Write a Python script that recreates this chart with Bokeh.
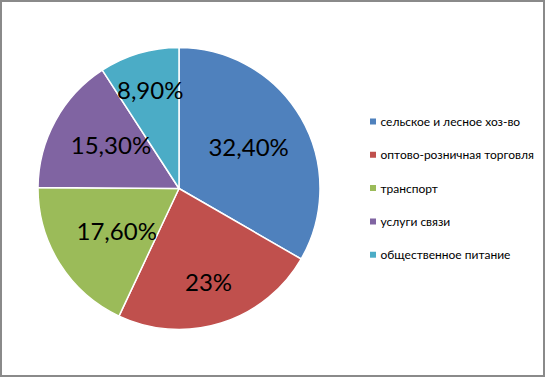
import math
from bokeh.plotting import figure
from bokeh.models import Range1d, ColumnDataSource
from bokeh.core.properties import value
from bokeh.embed import file_html
from bokeh.resources import INLINE

# ---- data ----
categories = ["сельское и лесное хоз-во", "оптово-розничная торговля", "транспорт",
              "услуги связи", "общественное питание"]
values = [32.4, 23.0, 17.6, 15.3, 8.9]
labels = ["32,40%", "23%", "17,60%", "15,30%", "8,90%"]
colors = ["#4F81BD", "#C0504D", "#9BBB59", "#8064A2", "#4BACC6"]

# ---- layout / style ----
W, H = 545, 377
CX, CY, R = 178.5, 189.0, 141.0
label_r = [0.57, 0.70, 0.54, 0.57, 0.72]
label_dang = [0.0, 0.0, 0.05, -0.06, 0.0]
LABEL_DY = 1.5
LEG_SQ_X, LEG_TX_X = 372.5, 380.0
LEG_Y0, LEG_STEP = 256.0, 33.3
FONT = "Lato"

total = sum(values)
starts, ends, lx, ly = [], [], [], []
cum = 0.0
for i, v in enumerate(values):
    a0 = math.pi / 2 - cum / total * 2 * math.pi
    cum += v
    a1 = math.pi / 2 - cum / total * 2 * math.pi
    starts.append(a0)
    ends.append(a1)
    mid = (a0 + a1) / 2 + label_dang[i]
    lx.append(CX + label_r[i] * R * math.cos(mid))
    ly.append(CY + label_r[i] * R * math.sin(mid) + LABEL_DY)

p = figure(width=W, height=H, x_range=Range1d(0, W), y_range=Range1d(0, H),
           output_backend="svg", toolbar_location=None, min_border=0)
p.axis.visible = False
p.grid.visible = False
p.outline_line_color = "#8a8a8a"
p.outline_line_width = 3
p.background_fill_color = "white"

src = ColumnDataSource(dict(start=starts, end=ends, color=colors, x=lx, y=ly, label=labels))
p.wedge(x=CX, y=CY, radius=R, start_angle="start", end_angle="end", direction="clock",
        fill_color="color", line_color="white", line_width=1.5, source=src)
p.text(x="x", y="y", text="label", source=src, text_align="center", text_baseline="middle",
       text_font=value(FONT), text_font_size="24px", text_color="black")

leg_y = [LEG_Y0 - i * LEG_STEP for i in range(len(categories))]
leg = ColumnDataSource(dict(y=leg_y, name=categories, color=colors))
p.scatter(x=LEG_SQ_X, y="y", marker="square", size=6, fill_color="color", line_color=None, source=leg)
p.text(x=LEG_TX_X, y="y", text="name", source=leg, text_align="left", text_baseline="middle",
       text_font=value(FONT), text_font_size="12px", text_color="black")

open("out.html", "w").write(file_html(p, INLINE))
